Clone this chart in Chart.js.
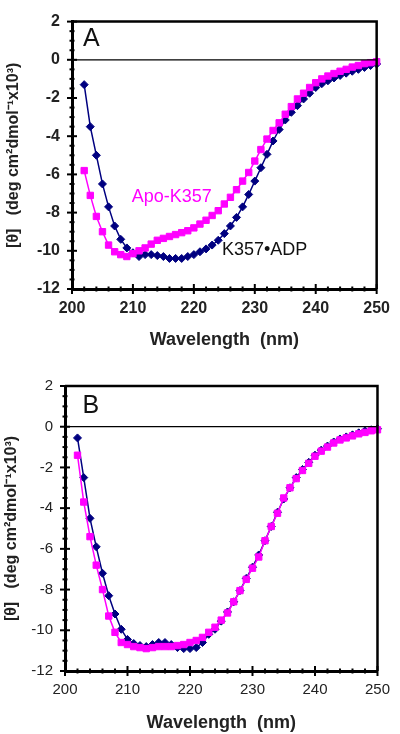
<!DOCTYPE html>
<html>
<head>
<meta charset="utf-8">
<script src="https://cdn.jsdelivr.net/npm/chart.js@4/dist/chart.umd.min.js"></script>
<style>
  html, body { margin: 0; padding: 0; background: #fff; }
  #wrap { position: relative; width: 400px; height: 734px; }
  canvas { position: absolute; left: 0; }
</style>
</head>
<body>
<div id="wrap">
  <canvas id="chartA" width="400" height="362" style="top:0"></canvas>
  <canvas id="chartB" width="400" height="372" style="top:362px"></canvas>
</div>
<script>
// wavelengths (nm), one reading per nm
const wavelengths = [];
for (let w = 202; w <= 250; w++) wavelengths.push(w);

// panel A
const apoA = [
  -5.8, -7.1, -8.2, -9.0, -9.7, -10.05, -10.2, -10.3, -10.15, -10.0,
  -9.85, -9.65, -9.45, -9.35, -9.25, -9.15, -9.05, -8.95, -8.8, -8.6,
  -8.4, -8.15, -7.9, -7.55, -7.2, -6.8, -6.35, -5.9, -5.3, -4.7,
  -4.15, -3.7, -3.3, -2.85, -2.45, -2.05, -1.75, -1.45, -1.2, -1.0,
  -0.85, -0.72, -0.6, -0.5, -0.38, -0.3, -0.2, -0.15, -0.1
];
const adpA = [
  -1.3, -3.5, -5.0, -6.5, -7.7, -8.7, -9.4, -9.85, -10.1, -10.3,
  -10.2, -10.2, -10.25, -10.3, -10.4, -10.4, -10.4, -10.3, -10.2, -10.05,
  -9.9, -9.7, -9.45, -9.1, -8.7, -8.25, -7.7, -7.05, -6.35, -5.65,
  -4.95, -4.25, -3.65, -3.15, -2.75, -2.4, -2.05, -1.75, -1.45, -1.25,
  -1.1, -0.95, -0.82, -0.7, -0.6, -0.5, -0.4, -0.3, -0.22
];

// panel B
const apoB = [
  -1.4, -3.7, -5.4, -6.8, -8.0, -9.3, -10.1, -10.6, -10.7, -10.8,
  -10.85, -10.9, -10.85, -10.8, -10.8, -10.8, -10.75, -10.7, -10.6, -10.5,
  -10.35, -10.1, -9.85, -9.5, -9.15, -8.6, -8.05, -7.5, -6.95, -6.4,
  -5.6, -4.9, -4.25, -3.5, -3.0, -2.55, -2.15, -1.8, -1.45, -1.2,
  -1.0, -0.8, -0.65, -0.55, -0.45, -0.35, -0.28, -0.2, -0.15
];
const adpB = [
  -0.55, -2.5, -4.5, -5.9, -7.2, -8.3, -9.2, -9.95, -10.45, -10.65,
  -10.75, -10.8, -10.7, -10.6, -10.6, -10.7, -10.85, -10.9, -10.9, -10.85,
  -10.6, -10.2, -9.95, -9.55, -9.1, -8.6, -8.05, -7.45, -6.9, -6.3,
  -5.6, -4.9, -4.2, -3.55, -3.0, -2.5, -2.1, -1.75, -1.4, -1.15,
  -0.95, -0.75, -0.6, -0.5, -0.4, -0.3, -0.2, -0.15, -0.1
];

const xMin = 200, xMax = 250, xStep = 2;
const yMin = -12, yMax = 2, yStep = 0.5;
const yTitle = "[θ]   (deg cm²dmol⁻¹x10³)";
const xTitle = "Wavelength  (nm)";

const FONT = "'Liberation Sans', Arial, sans-serif";
const NAVY = "#000080";
const MAGENTA = "#ff00ff";

const toPts = (vals) => vals.map((v, i) => ({ x: wavelengths[i], y: v }));

// frame, zero line, tick marks, panel letter and curve labels
const decor = {
  id: "decor",
  afterDraw(chart, args, opts) {
    const { ctx, chartArea: a, scales: { x, y } } = chart;
    ctx.save();
    ctx.strokeStyle = "#000";
    // zero line
    ctx.lineWidth = 1.2;
    const y0 = y.getPixelForValue(0);
    ctx.beginPath();
    ctx.moveTo(a.left, y0);
    ctx.lineTo(a.right, y0);
    ctx.stroke();
    // top / right frame
    ctx.lineWidth = 2.5;
    ctx.beginPath();
    ctx.moveTo(a.left, a.top);
    ctx.lineTo(a.right, a.top);
    ctx.lineTo(a.right, a.bottom);
    ctx.stroke();
    // ticks
    ctx.lineWidth = 2;
    x.ticks.forEach((t) => {
      const px = x.getPixelForValue(t.value);
      const len = t.value % 10 === 0 ? 5 : 2.5;
      ctx.beginPath();
      ctx.moveTo(px, a.bottom - len);
      ctx.lineTo(px, a.bottom + len);
      ctx.stroke();
    });
    y.ticks.forEach((t) => {
      const py = y.getPixelForValue(t.value);
      const len = t.value % 2 === 0 ? 5 : 2.5;
      ctx.beginPath();
      ctx.moveTo(a.left - len, py);
      ctx.lineTo(a.left + len, py);
      ctx.stroke();
    });
    // texts
    ctx.textBaseline = "middle";
    ctx.textAlign = "left";
    opts.labels.forEach((l) => {
      ctx.font = l.font;
      ctx.fillStyle = l.color;
      ctx.fillText(l.text, x.getPixelForValue(l.x), y.getPixelForValue(l.y));
    });
    ctx.restore();
  },
};

function makePanel(id, apo, adp, lay) {
  const ctx = document.getElementById(id).getContext("2d");
  return new Chart(ctx, {
    type: "line",
    data: {
      datasets: [
        {
          label: "Apo-K357",
          data: toPts(apo),
          borderColor: MAGENTA,
          backgroundColor: MAGENTA,
          borderWidth: 1.5,
          pointStyle: "rect",
          pointRadius: 4.5,
          pointBorderWidth: 1,
          clip: false,
        },
        {
          label: "K357•ADP",
          data: toPts(adp),
          borderColor: NAVY,
          backgroundColor: NAVY,
          borderWidth: 1.5,
          pointStyle: "rectRot",
          pointRadius: 4,
          pointBorderWidth: 1,
          clip: false,
        },
      ],
    },
    options: {
      responsive: false,
      animation: false,
      layout: { padding: lay.padding },
      plugins: {
        legend: { display: false },
        tooltip: { enabled: false },
        decor: { labels: lay.labels },
      },
      scales: {
        x: {
          type: "linear",
          min: xMin,
          max: xMax,
          afterFit: (s) => { s.height = lay.xHeight; },
          grid: { display: true, drawOnChartArea: false, drawTicks: false },
          border: { display: true, color: "#000", width: 3 },
          ticks: {
            stepSize: xStep,
            autoSkip: false,
            maxRotation: 0,
            padding: lay.xTickPad,
            color: "#222",
            font: { family: FONT, size: lay.tickSize, weight: lay.tickWeight },
            callback: (v) => (v % 10 === 0 ? v : ""),
          },
          title: {
            display: true,
            text: xTitle,
            color: "#222",
            padding: { top: 0, bottom: lay.xTitlePad },
            font: { family: FONT, size: 18, weight: "bold" },
          },
        },
        y: {
          min: yMin,
          max: yMax,
          afterFit: (s) => { s.width = lay.yWidth; },
          grid: { display: true, drawOnChartArea: false, drawTicks: false },
          border: { display: true, color: "#000", width: 3 },
          ticks: {
            stepSize: yStep,
            autoSkip: false,
            padding: 12,
            color: "#222",
            font: { family: FONT, size: lay.tickSize, weight: lay.tickWeight },
            callback: (v) => (v % 2 === 0 ? v : ""),
          },
          title: {
            display: true,
            text: yTitle,
            color: "#222",
            padding: { top: lay.yTitlePad, bottom: 0 },
            font: { family: FONT, size: 16, weight: "bold" },
          },
        },
      },
    },
    plugins: [decor],
  });
}

makePanel("chartA", apoA, adpA, {
  padding: { top: 8, right: 21, left: 0, bottom: 0 },
  xHeight: 73,
  yWidth: 72,
  xTickPad: 10,
  xTitlePad: 11,
  yTitlePad: 4,
  tickSize: 16,
  tickWeight: "bold",
  labels: [
    { text: "A", x: 201.8, y: 1.1, font: "25px " + FONT, color: "#111" },
    { text: "Apo-K357", x: 209.8, y: -7.17, font: "18px " + FONT, color: MAGENTA },
    { text: "K357•ADP", x: 224.6, y: -9.97, font: "18px " + FONT, color: "#111" },
  ],
});

makePanel("chartB", apoB, adpB, {
  padding: { top: 24, right: 12, left: 0, bottom: 0 },
  xHeight: 63,
  yWidth: 65,
  xTickPad: 10,
  xTitlePad: 0,
  yTitlePad: 2,
  tickSize: 15,
  tickWeight: "normal",
  labels: [
    { text: "B", x: 202.8, y: 1.03, font: "25px " + FONT, color: "#111" },
  ],
});
</script>
</body>
</html>
